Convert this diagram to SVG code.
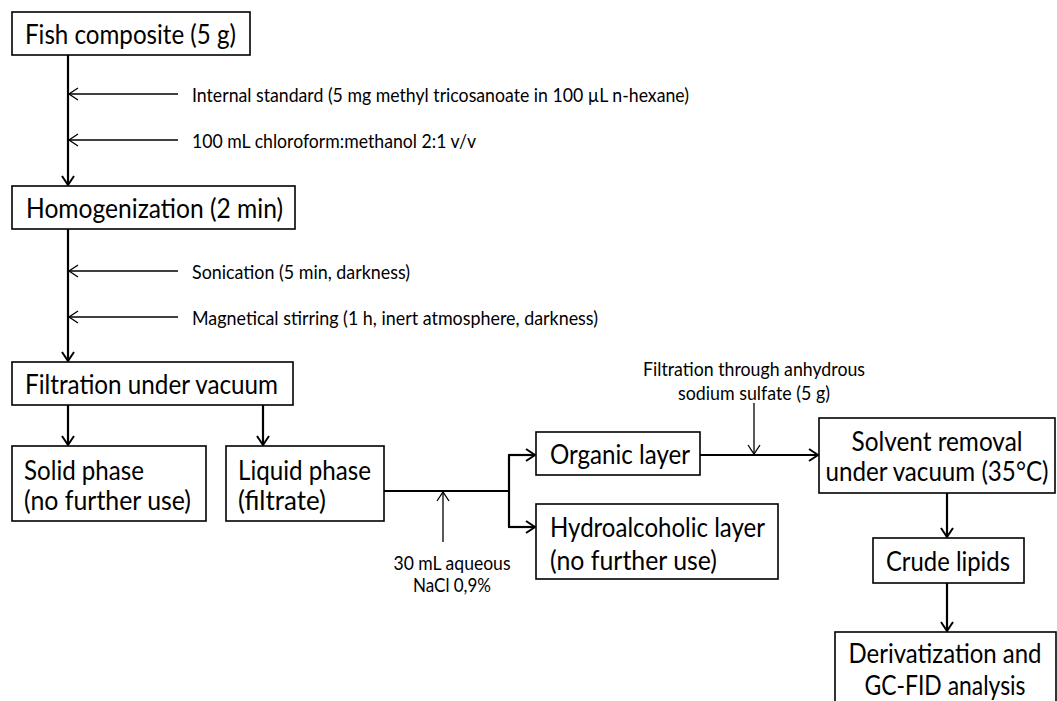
<svg xmlns="http://www.w3.org/2000/svg" width="1057" height="701" viewBox="0 0 1057 701">
<style>
.box{fill:#fff;stroke:#000;stroke-width:1.6}
.t{font-family:Lato,"Open Sans","Liberation Sans",sans-serif;font-size:26px;fill:#000;dominant-baseline:central}
.s{font-family:Lato,"Open Sans","Liberation Sans",sans-serif;font-size:19px;fill:#000;dominant-baseline:central}
.c{text-anchor:middle}
.thick{fill:none;stroke:#000;stroke-width:2.2}
.thin{fill:none;stroke:#000;stroke-width:1.3}
</style>
<defs>
<marker id="ah" markerUnits="userSpaceOnUse" markerWidth="16" markerHeight="16" refX="11" refY="7" orient="auto">
<path d="M2,1 L11,7 L2,13" fill="none" stroke="#000" stroke-width="2"/>
</marker>
<marker id="ahs" markerUnits="userSpaceOnUse" markerWidth="16" markerHeight="16" refX="11" refY="7" orient="auto">
<path d="M2,1 L11,7 L2,13" fill="none" stroke="#000" stroke-width="1.3"/>
</marker>
</defs>
<rect width="1057" height="701" fill="#fff"/>
<g id="connectors">
<path class="thick" d="M68,55 V185" marker-end="url(#ah)"/>
<path class="thick" d="M68,229 V361" marker-end="url(#ah)"/>
<path class="thick" d="M68,405 V445" marker-end="url(#ah)"/>
<path class="thick" d="M263,405 V445" marker-end="url(#ah)"/>
<path class="thick" d="M384,491 H509"/>
<path class="thick" d="M509,455 V527"/>
<path class="thick" d="M508,455 H535" marker-end="url(#ah)"/>
<path class="thick" d="M508,527 H535" marker-end="url(#ah)"/>
<path class="thick" d="M700,455 H818" marker-end="url(#ah)"/>
<path class="thick" d="M947,493 V537" marker-end="url(#ah)"/>
<path class="thick" d="M947,583 V631" marker-end="url(#ah)"/>
<path class="thin" d="M178,94 H69" marker-end="url(#ahs)"/>
<path class="thin" d="M178,140 H69" marker-end="url(#ahs)"/>
<path class="thin" d="M178,271 H69" marker-end="url(#ahs)"/>
<path class="thin" d="M178,317 H69" marker-end="url(#ahs)"/>
<path class="thin" d="M443,542 V492" marker-end="url(#ahs)"/>
<path class="thin" d="M754,403 V454" marker-end="url(#ahs)"/>
</g>
<g id="fish"><rect class="box" x="12" y="12" width="238" height="43"/><text class="t" x="25" y="33.5" textLength="211" lengthAdjust="spacingAndGlyphs">Fish composite (5 g)</text></g>
<g id="homog"><rect class="box" x="12" y="186" width="283" height="43"/><text class="t" x="26" y="207.5" textLength="257" lengthAdjust="spacingAndGlyphs">Homogenization (2 min)</text></g>
<g id="filtration"><rect class="box" x="12" y="362" width="281" height="43"/><text class="t" x="25" y="383.5" textLength="253" lengthAdjust="spacingAndGlyphs">Filtration under vacuum</text></g>
<g id="solid"><rect class="box" x="12" y="446" width="194" height="75"/><text class="t" x="24" y="470" textLength="120" lengthAdjust="spacingAndGlyphs">Solid phase</text><text class="t" x="24" y="500" textLength="167" lengthAdjust="spacingAndGlyphs">(no further use)</text></g>
<g id="liquid"><rect class="box" x="226" y="446" width="158" height="75"/><text class="t" x="238" y="470" textLength="133" lengthAdjust="spacingAndGlyphs">Liquid phase</text><text class="t" x="238" y="500" textLength="88" lengthAdjust="spacingAndGlyphs">(filtrate)</text></g>
<g id="organic"><rect class="box" x="536" y="432" width="164" height="43"/><text class="t" x="550" y="453.5" textLength="140" lengthAdjust="spacingAndGlyphs">Organic layer</text></g>
<g id="hydro"><rect class="box" x="536" y="504" width="242" height="75"/><text class="t" x="550" y="527" textLength="215" lengthAdjust="spacingAndGlyphs">Hydroalcoholic layer</text><text class="t" x="550" y="560" textLength="167" lengthAdjust="spacingAndGlyphs">(no further use)</text></g>
<g id="solvent"><rect class="box" x="819" y="418" width="236" height="75"/><text class="t c" x="937" y="441" textLength="171" lengthAdjust="spacingAndGlyphs">Solvent removal</text><text class="t c" x="937" y="471" textLength="223" lengthAdjust="spacingAndGlyphs">under vacuum (35°C)</text></g>
<g id="crude"><rect class="box" x="873" y="538" width="151" height="45"/><text class="t c" x="948" y="560.5" textLength="124" lengthAdjust="spacingAndGlyphs">Crude lipids</text></g>
<g id="deriv"><rect class="box" x="835" y="632" width="221" height="80"/><text class="t c" x="945" y="653" textLength="193" lengthAdjust="spacingAndGlyphs">Derivatization and</text><text class="t c" x="945" y="685" textLength="161" lengthAdjust="spacingAndGlyphs">GC-FID analysis</text></g>
<g id="labels">
<text class="s" x="192" y="94" textLength="497" lengthAdjust="spacingAndGlyphs">Internal standard (5 mg methyl tricosanoate in 100 µL n-hexane)</text>
<text class="s" x="192" y="140" textLength="284" lengthAdjust="spacingAndGlyphs">100 mL chloroform:methanol 2:1 v/v</text>
<text class="s" x="192" y="271" textLength="218" lengthAdjust="spacingAndGlyphs">Sonication (5 min, darkness)</text>
<text class="s" x="192" y="317" textLength="406" lengthAdjust="spacingAndGlyphs">Magnetical stirring (1 h, inert atmosphere, darkness)</text>
<text class="s c" x="754" y="368" textLength="222" lengthAdjust="spacingAndGlyphs">Filtration through anhydrous</text>
<text class="s c" x="754" y="392" textLength="152" lengthAdjust="spacingAndGlyphs">sodium sulfate (5 g)</text>
<text class="s c" x="452" y="562" textLength="117" lengthAdjust="spacingAndGlyphs">30 mL aqueous</text>
<text class="s c" x="452" y="584" textLength="78" lengthAdjust="spacingAndGlyphs">NaCl 0,9%</text>
</g>
</svg>
